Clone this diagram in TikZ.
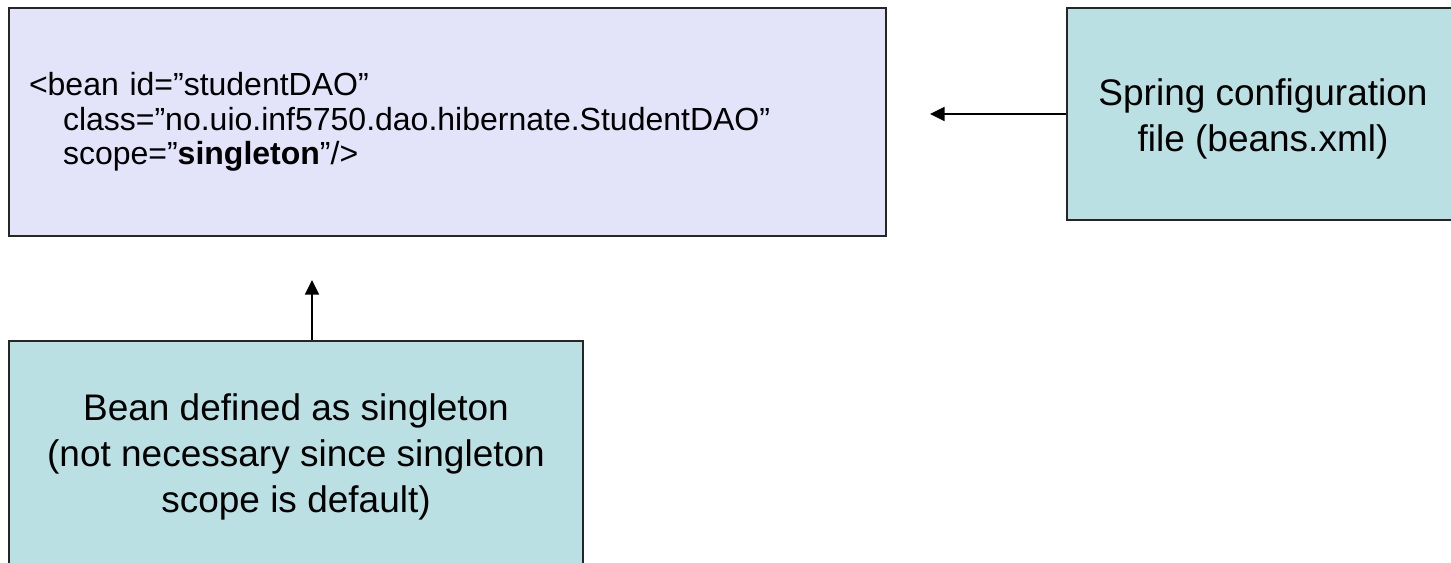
\documentclass[tikz,border=0pt]{standalone}
\usepackage{fontspec}
\setmainfont{Liberation Sans}
\usetikzlibrary{arrows.meta,positioning}
\definecolor{lavfill}{RGB}{227,227,250}
\definecolor{tealfill}{RGB}{187,224,227}
\tikzset{every node/.style={draw=black!85, line width=1pt, rectangle, inner sep=0pt}}
\tikzset{code/.style={fill=lavfill, font=\fontsize{24pt}{25.8pt}\selectfont, align=left, inner xsep=15pt, text width=627.75pt, minimum width=657.75pt, minimum height=171pt}}
\tikzset{note/.style={fill=tealfill, font=\fontsize{27.75pt}{34.5pt}\selectfont, align=center}}
\tikzset{link/.style={line width=1.2pt, -{Triangle[length=11pt,width=10.5pt]}}}

\begin{document}
\begin{tikzpicture}[x=0.75pt, y=-0.75pt]
\useasboundingbox (0,0) rectangle (1451,563);
\node[code] (bean) at (447.5,122) {<bean id=”studentDAO”\\
\hspace*{25.5pt}class=”no.uio.inf5750.dao.hibernate.StudentDAO”\\
\hspace*{25.5pt}scope=”\textbf{singleton}”/>};
\node[note, minimum width=294pt, minimum height=159pt] (spring) at (1263,114)
    {\rule{0pt}{28pt}Spring configuration\\file (beans.xml)};
\node[note, minimum width=430.5pt, minimum height=174pt] (single) at (296,457)
    {Bean defined as singleton\\(not necessary since singleton\\scope is default)};
\coordinate (tipa) at (930,114);
\coordinate (tipb) at (312,280);
\draw[link] (spring.west) -- (tipa);
\draw[link] (single.north -| tipb) -- (tipb);
\end{tikzpicture}
\end{document}
